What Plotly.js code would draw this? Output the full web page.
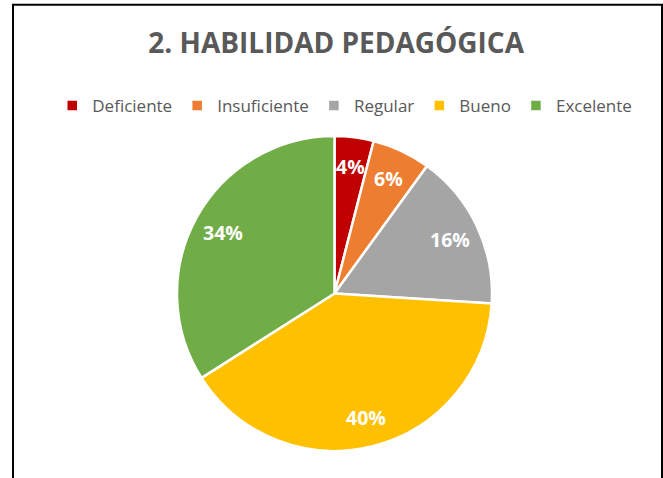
<!DOCTYPE html>
<html>
<head>
<meta charset="utf-8">
<script src="https://cdn.plot.ly/plotly-3.0.1.min.js"></script>
<style>
html,body{margin:0;padding:0;background:#fff;}
#chart{width:663px;height:478px;}
</style>
</head>
<body>
<div id="chart"></div>
<script>
const categories = ["Deficiente", "Insuficiente", "Regular", "Bueno", "Excelente"];
const values = [4, 6, 16, 40, 34];
const colors = ["#C00000", "#ED7D31", "#A5A5A5", "#FFC000", "#70AD47"];
const titleText = "2. HABILIDAD PEDAGÓGICA";

const W = 663, H = 478;
const FONT = "'Open Sans', sans-serif";
const dom = {x: [177 / W, 492 / W], y: [1 - 451 / H, 1 - 136 / H]};
const trace = {
  type: "pie",
  labels: categories,
  values: values,
  sort: false,
  direction: "clockwise",
  rotation: 0,
  marker: {colors: colors, line: {color: "#ffffff", width: 2.5}},
  textinfo: "none",
  hoverinfo: "none",
  domain: dom
};

// percentage labels placed along each slice's middle angle
const total = values.reduce((a, b) => a + b, 0);
const cx = (dom.x[0] + dom.x[1]) / 2, cy = (dom.y[0] + dom.y[1]) / 2;
const Rpx = (dom.x[1] - dom.x[0]) * W / 2;
let cum = 0;
const annotations = values.map((v) => {
  const mid = (cum + v / 2) / total; cum += v;
  const ang = mid * 2 * Math.PI;
  const r = 0.81 * Rpx;
  return {
    xref: "paper", yref: "paper",
    x: cx + r * Math.sin(ang) / W, y: cy + r * Math.cos(ang) / H,
    text: "<b>" + Math.round(v / total * 100) + "%</b>", showarrow: false,
    xanchor: "center", yanchor: "middle",
    font: {family: FONT, size: 19.5, color: "#ffffff"}
  };
});

const layout = {
  width: W, height: H,
  margin: {l: 0, r: 0, t: 0, b: 0},
  paper_bgcolor: "#ffffff",
  title: {text: "<b>" + titleText + "</b>", font: {family: FONT, size: 28, color: "#595959"}, x: 0.507, xanchor: "center", y: 1 - 43 / H, yanchor: "middle"},
  showlegend: true,
  legend: {orientation: "h", x: 0.52, xanchor: "center", y: 1 - 106 / H, yanchor: "middle",
    font: {family: FONT, size: 17, color: "#595959"}, traceorder: "normal", itemwidth: 30},
  annotations: annotations,
  shapes: [{type: "rect", xref: "paper", yref: "paper", x0: 13 / W, x1: 662 / W, y0: -0.1, y1: 1 - 4.75 / H,
    line: {color: "#000000", width: 2}, fillcolor: "rgba(0,0,0,0)", layer: "above"}]
};
Plotly.newPlot("chart", [trace], layout, {displayModeBar: false, staticPlot: true});
</script>
</body>
</html>
